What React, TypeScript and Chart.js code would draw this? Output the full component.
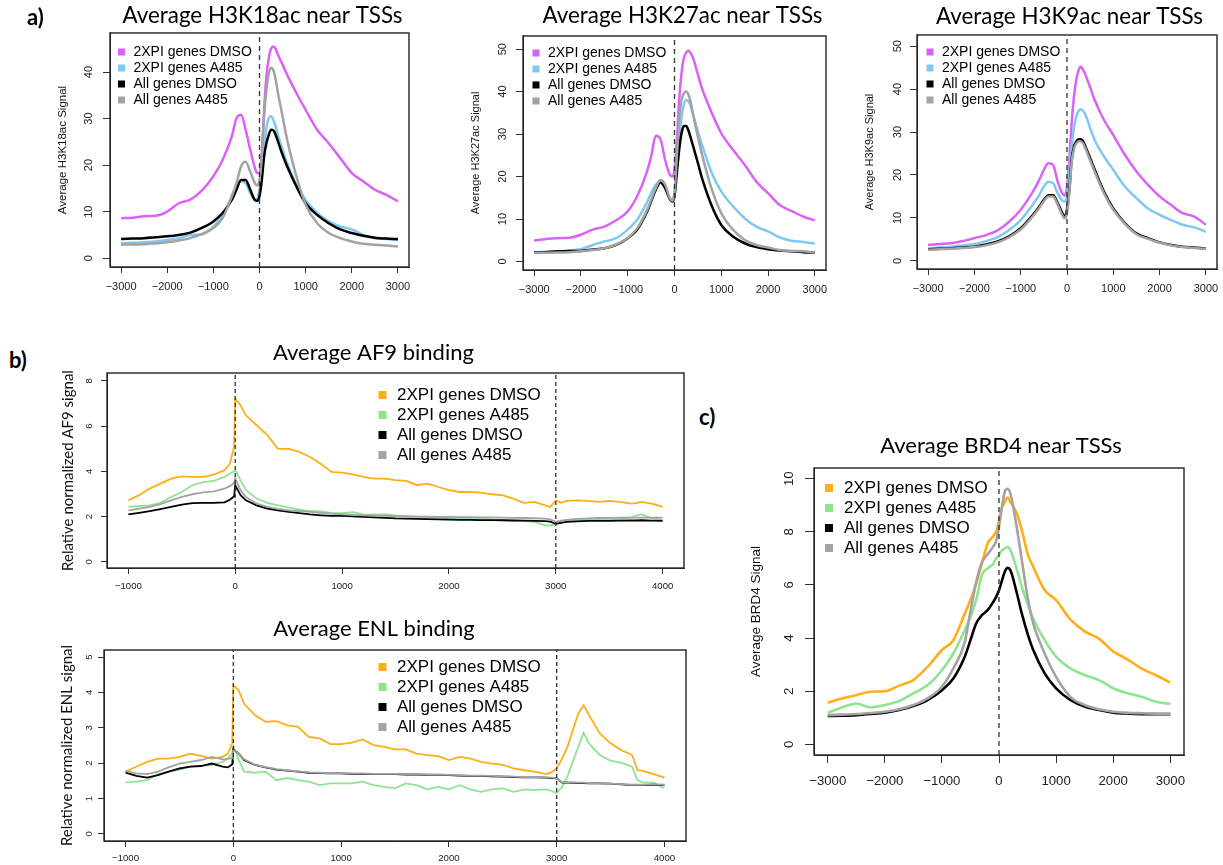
import React, { useEffect, useRef } from 'react';
import { Chart, registerables } from 'chart.js';

Chart.register(...registerables);

const SANS = '"Liberation Sans", Arial, Helvetica, sans-serif';
const CAL = 'Lato, "Noto Sans", sans-serif';

const MAGENTA = '#DB62F6';
const SKY = '#80C8F4';
const BLACK = '#000000';
const GRAY = '#A3A3A3';
const ORANGE = '#FFAE17';
const GREEN = '#8FE58F';

const LEGEND_LABELS = ['2XPI genes DMSO', '2XPI genes A485', 'All genes DMSO', 'All genes A485'];

// ---------- tick labels ----------
const TSS_TICKS = [-3000, -2000, -1000, 0, 1000, 2000, 3000];
const GENE_TICKS = [-1000, 0, 1000, 2000, 3000, 4000];
const H3K18_Y_TICKS = [0, 10, 20, 30, 40];
const H3K27_Y_TICKS = [0, 10, 20, 30, 40, 50];
const H3K9_Y_TICKS = [0, 10, 20, 30, 40, 50];
const AF9_Y_TICKS = [0, 2, 4, 6, 8];
const ENL_Y_TICKS = [0, 1, 2, 3, 4, 5];
const BRD4_Y_TICKS = [0, 2, 4, 6, 8, 10];

// ---------- panel a : histone acetylation near TSSs ----------
const TSS_X = [-3000, -2750, -2500, -2250, -2000, -1750, -1500, -1250, -1000, -800, -600, -500, -400, -300, -200, -100, -50, 0, 50, 100, 150, 200, 250, 300, 350, 400, 500, 600, 800, 1000, 1250, 1500, 1750, 2000, 2250, 2500, 2750, 3000];

const H3K18_2XPI_DMSO = [8.6, 8.7, 9.0, 9.1, 10.0, 11.8, 12.6, 14.5, 17.6, 21.1, 26.2, 30.0, 30.8, 27.6, 23.3, 19.4, 18.3, 18.3, 22.6, 31.9, 39.0, 43.0, 45.0, 45.5, 45.0, 43.7, 41.6, 39.4, 35.5, 31.9, 27.6, 24.7, 21.5, 18.3, 16.5, 14.7, 13.6, 12.2];
const H3K18_2XPI_A485 = [3.2, 3.3, 3.4, 3.6, 3.9, 4.3, 5.0, 5.1, 6.8, 9.3, 13.3, 15.4, 16.6, 16.1, 14.0, 12.5, 12.7, 14.7, 18.3, 24.0, 28.0, 30.1, 30.5, 29.7, 28.3, 26.5, 23.3, 20.4, 15.8, 12.5, 9.7, 7.9, 6.8, 6.2, 5.0, 4.3, 4.1, 3.9];
const H3K18_ALL_DMSO = [4.1, 4.2, 4.3, 4.5, 4.7, 5.0, 5.5, 6.5, 7.9, 9.7, 12.5, 14.7, 16.8, 16.8, 14.7, 12.5, 12.3, 13.3, 16.8, 21.9, 24.7, 26.5, 27.6, 27.5, 26.5, 25.1, 22.2, 19.7, 15.4, 11.8, 9.3, 7.5, 6.2, 5.4, 4.8, 4.4, 4.2, 4.1];
const H3K18_ALL_A485 = [2.9, 2.95, 3.0, 3.2, 3.4, 3.8, 4.3, 5.2, 6.5, 8.6, 13.3, 16.1, 19.7, 20.7, 18.6, 16.1, 15.6, 16.8, 21.9, 30.5, 36.2, 39.6, 40.9, 40.4, 38.4, 35.5, 30.5, 25.4, 17.6, 11.5, 7.5, 5.4, 4.3, 3.6, 3.1, 2.9, 2.7, 2.5];

const H3K27_2XPI_DMSO = [4.9, 5.3, 5.5, 5.6, 6.3, 7.5, 8.2, 9.7, 11.8, 15.3, 20.8, 24.7, 29.6, 28.8, 23.9, 20.4, 20.0, 21.6, 28.6, 38.0, 44.3, 47.9, 49.2, 49.7, 49.0, 47.9, 44.0, 40.4, 34.9, 30.2, 26.3, 22.8, 18.8, 16.1, 13.3, 11.9, 10.6, 9.7];
const H3K27_2XPI_A485 = [2.2, 2.3, 2.4, 2.6, 2.9, 3.9, 4.7, 5.5, 7.5, 9.8, 13.7, 16.1, 18.1, 18.8, 17.3, 14.9, 14.5, 16.1, 22.4, 28.6, 34.1, 36.9, 38.0, 37.7, 36.5, 34.5, 30.6, 27.1, 20.8, 16.5, 13.0, 10.2, 8.2, 7.1, 5.7, 4.9, 4.6, 4.2];
const H3K27_ALL_DMSO = [2.1, 2.2, 2.4, 2.45, 2.5, 2.8, 3.1, 3.9, 5.5, 7.5, 11.4, 14.1, 16.9, 18.6, 17.3, 14.7, 14.1, 15.3, 20.8, 26.3, 30.2, 31.9, 31.9, 30.8, 29.0, 27.1, 23.2, 19.2, 13.0, 8.6, 5.9, 4.3, 3.4, 2.9, 2.6, 2.4, 2.2, 2.1];
const H3K27_ALL_A485 = [2.0, 2.05, 2.1, 2.2, 2.4, 2.7, 3.1, 4.0, 5.5, 7.8, 11.8, 14.5, 17.3, 19.2, 18.1, 14.9, 14.3, 16.1, 24.7, 33.4, 38.0, 39.6, 40.0, 39.2, 37.3, 34.5, 29.4, 24.7, 16.9, 11.4, 7.5, 5.1, 3.9, 3.3, 2.7, 2.5, 2.4, 2.1];

const H3K9_2XPI_DMSO = [3.7, 3.9, 4.1, 4.6, 5.3, 6.0, 7.1, 9.1, 11.9, 15.0, 18.8, 21.2, 22.7, 22.3, 18.4, 15.7, 15.2, 17.3, 23.5, 32.0, 38.2, 42.1, 44.4, 45.2, 44.4, 43.3, 40.4, 37.4, 32.8, 29.3, 24.7, 20.8, 17.7, 15.0, 13.0, 11.1, 10.3, 8.4];
const H3K9_2XPI_A485 = [2.9, 3.1, 3.3, 3.6, 3.9, 4.6, 5.5, 7.2, 9.5, 12.2, 15.3, 17.3, 18.4, 18.1, 15.7, 14.0, 13.8, 15.3, 20.4, 26.6, 30.9, 33.6, 34.9, 35.3, 34.9, 34.0, 30.9, 28.1, 24.3, 21.2, 17.3, 14.6, 12.2, 10.7, 9.5, 8.4, 7.8, 6.8];
const H3K9_ALL_DMSO = [2.7, 2.8, 2.9, 3.1, 3.3, 3.8, 4.5, 5.7, 7.6, 9.9, 12.6, 14.2, 15.3, 15.3, 13.4, 11.1, 10.3, 11.9, 16.5, 23.5, 26.6, 27.8, 28.3, 28.3, 27.8, 26.6, 23.9, 21.2, 16.1, 12.2, 8.8, 6.4, 5.3, 4.3, 3.7, 3.3, 3.1, 2.9];
const H3K9_ALL_A485 = [2.6, 2.7, 2.8, 3.0, 3.2, 3.6, 4.3, 5.5, 7.3, 9.6, 12.3, 13.9, 15.0, 15.0, 13.0, 10.6, 9.9, 11.1, 15.8, 22.8, 26.0, 27.3, 27.8, 27.8, 27.3, 26.1, 23.4, 20.7, 15.7, 11.9, 8.6, 6.2, 5.1, 4.2, 3.6, 3.2, 3.0, 2.8];

// ---------- panel b : metagene binding (TSS .. TES) ----------
const GENE_X = [-1000, -900, -800, -700, -600, -500, -400, -300, -200, -100, -50, -10, 0, 50, 100, 200, 300, 400, 500, 600, 700, 800, 900, 1000, 1100, 1200, 1300, 1400, 1500, 1600, 1700, 1800, 1900, 2000, 2100, 2200, 2300, 2400, 2500, 2600, 2700, 2800, 2900, 2950, 3000, 3050, 3100, 3200, 3250, 3300, 3400, 3500, 3600, 3700, 3750, 3800, 3900, 4000];

const AF9_2XPI_DMSO = [2.72, 2.95, 3.24, 3.46, 3.68, 3.78, 3.76, 3.76, 3.86, 4.05, 4.34, 5.1, 7.22, 6.92, 6.48, 6.04, 5.6, 5.0, 5.0, 4.86, 4.64, 4.34, 3.98, 3.95, 3.87, 3.76, 3.68, 3.68, 3.61, 3.58, 3.39, 3.46, 3.31, 3.17, 3.09, 3.09, 3.06, 2.99, 2.95, 2.8, 2.61, 2.65, 2.5, 2.43, 2.72, 2.61, 2.7, 2.72, 2.71, 2.7, 2.65, 2.7, 2.65, 2.58, 2.6, 2.65, 2.58, 2.43];
const AF9_2XPI_A485 = [2.43, 2.47, 2.5, 2.61, 2.87, 3.09, 3.39, 3.53, 3.58, 3.76, 3.9, 4.0, 4.08, 3.6, 3.17, 2.8, 2.61, 2.5, 2.4, 2.31, 2.24, 2.24, 2.16, 2.16, 2.2, 2.1, 2.09, 2.1, 2.05, 2.02, 2.0, 1.98, 1.96, 1.93, 1.92, 1.9, 1.89, 1.88, 1.85, 1.83, 1.8, 1.77, 1.62, 1.6, 1.69, 1.78, 1.81, 1.85, 1.86, 1.87, 1.87, 1.88, 1.9, 1.96, 2.05, 2.1, 1.93, 1.86];
const AF9_ALL_DMSO = [2.1, 2.17, 2.24, 2.33, 2.43, 2.53, 2.6, 2.61, 2.61, 2.63, 2.75, 2.9, 3.39, 2.95, 2.72, 2.5, 2.36, 2.28, 2.21, 2.16, 2.1, 2.06, 2.03, 2.03, 2.01, 1.99, 1.97, 1.95, 1.92, 1.91, 1.9, 1.89, 1.88, 1.87, 1.86, 1.86, 1.85, 1.85, 1.84, 1.83, 1.82, 1.81, 1.8, 1.78, 1.68, 1.72, 1.77, 1.79, 1.8, 1.81, 1.81, 1.81, 1.82, 1.83, 1.83, 1.84, 1.82, 1.81];
const AF9_ALL_A485 = [2.28, 2.35, 2.43, 2.55, 2.72, 2.87, 2.99, 3.07, 3.12, 3.24, 3.35, 3.5, 3.7, 3.17, 2.87, 2.58, 2.43, 2.34, 2.28, 2.24, 2.21, 2.17, 2.13, 2.1, 2.08, 2.06, 2.05, 2.04, 2.02, 2.01, 2.0, 2.0, 1.99, 1.99, 1.98, 1.98, 1.97, 1.97, 1.96, 1.95, 1.94, 1.93, 1.91, 1.88, 1.77, 1.82, 1.86, 1.9, 1.91, 1.92, 1.94, 1.95, 1.96, 1.96, 1.96, 1.96, 1.96, 1.96];

const ENL_2XPI_DMSO = [1.76, 1.9, 2.04, 2.13, 2.13, 2.18, 2.27, 2.21, 2.13, 2.18, 2.27, 2.56, 4.2, 4.06, 3.68, 3.36, 3.17, 3.19, 3.07, 3.03, 2.74, 2.7, 2.54, 2.54, 2.58, 2.67, 2.51, 2.46, 2.39, 2.39, 2.27, 2.23, 2.2, 2.09, 2.18, 2.13, 2.04, 1.99, 1.95, 1.85, 1.8, 1.76, 1.69, 1.74, 1.85, 2.13, 2.46, 3.4, 3.64, 3.36, 2.84, 2.56, 2.37, 2.23, 1.8, 1.78, 1.69, 1.59];
const ENL_2XPI_A485 = [1.46, 1.48, 1.52, 1.69, 1.76, 1.82, 1.9, 1.93, 1.95, 2.04, 2.13, 2.3, 2.48, 2.09, 1.76, 1.73, 1.76, 1.52, 1.58, 1.52, 1.48, 1.38, 1.43, 1.43, 1.43, 1.48, 1.38, 1.33, 1.29, 1.43, 1.38, 1.26, 1.33, 1.26, 1.38, 1.26, 1.19, 1.26, 1.29, 1.19, 1.26, 1.24, 1.26, 1.22, 1.15, 1.33, 1.62, 2.46, 2.86, 2.56, 2.23, 2.07, 2.01, 1.9, 1.52, 1.45, 1.45, 1.29];
const ENL_ALL_DMSO = [1.73, 1.64, 1.59, 1.66, 1.76, 1.85, 1.9, 1.92, 1.99, 1.9, 1.88, 1.97, 2.39, 2.27, 2.09, 1.95, 1.88, 1.82, 1.79, 1.76, 1.73, 1.72, 1.71, 1.71, 1.7, 1.7, 1.69, 1.69, 1.69, 1.68, 1.68, 1.67, 1.67, 1.66, 1.65, 1.64, 1.64, 1.63, 1.62, 1.61, 1.6, 1.6, 1.59, 1.58, 1.57, 1.45, 1.45, 1.44, 1.44, 1.43, 1.43, 1.42, 1.4, 1.38, 1.38, 1.38, 1.39, 1.38];
const ENL_ALL_A485 = [1.78, 1.71, 1.69, 1.76, 1.88, 1.99, 2.04, 2.09, 2.18, 2.11, 2.12, 2.15, 2.37, 2.27, 2.11, 1.96, 1.89, 1.83, 1.8, 1.77, 1.74, 1.73, 1.72, 1.72, 1.71, 1.71, 1.7, 1.7, 1.7, 1.69, 1.69, 1.68, 1.68, 1.67, 1.66, 1.65, 1.65, 1.64, 1.63, 1.62, 1.61, 1.61, 1.6, 1.59, 1.58, 1.46, 1.46, 1.45, 1.45, 1.44, 1.43, 1.42, 1.41, 1.39, 1.39, 1.39, 1.4, 1.39];

// ---------- panel c : BRD4 near TSSs ----------
const BRD4_X = [-3000, -2750, -2500, -2250, -2000, -1750, -1500, -1250, -1000, -800, -600, -500, -400, -300, -200, -100, -50, 0, 50, 100, 150, 200, 300, 400, 500, 600, 800, 1000, 1250, 1500, 1750, 2000, 2250, 2500, 2750, 3000];
const BRD4_2XPI_DMSO = [1.57, 1.73, 1.85, 1.98, 2.0, 2.21, 2.42, 2.92, 3.55, 3.92, 4.92, 5.43, 6.05, 6.8, 7.56, 7.83, 8.0, 8.43, 8.9, 9.12, 9.29, 9.12, 8.75, 8.06, 7.18, 6.68, 5.8, 5.43, 4.7, 4.25, 3.98, 3.5, 3.2, 2.85, 2.6, 2.32];
const BRD4_2XPI_A485 = [1.19, 1.39, 1.54, 1.39, 1.48, 1.63, 1.92, 2.23, 2.79, 3.42, 4.3, 4.8, 5.43, 6.37, 6.62, 6.8, 7.0, 7.12, 7.3, 7.37, 7.43, 7.31, 6.68, 5.93, 5.3, 4.74, 3.92, 3.3, 2.86, 2.61, 2.42, 2.11, 1.92, 1.79, 1.6, 1.52];
const BRD4_ALL_DMSO = [1.07, 1.08, 1.1, 1.14, 1.19, 1.29, 1.44, 1.67, 2.04, 2.48, 3.3, 3.92, 4.55, 4.86, 5.05, 5.36, 5.55, 5.8, 6.15, 6.49, 6.64, 6.55, 5.8, 4.92, 4.17, 3.55, 2.67, 2.11, 1.67, 1.42, 1.29, 1.19, 1.16, 1.14, 1.14, 1.14];
const BRD4_ALL_A485 = [1.1, 1.12, 1.14, 1.18, 1.23, 1.32, 1.48, 1.73, 2.17, 2.86, 3.85, 5.0, 6.1, 6.85, 7.15, 7.45, 7.65, 8.2, 8.9, 9.5, 9.62, 9.44, 8.31, 6.93, 5.55, 4.55, 3.42, 2.54, 1.79, 1.48, 1.32, 1.23, 1.19, 1.17, 1.15, 1.14];

const TSS_MARK = [0];
const GENE_MARKS = [0, 3000];

// ---------- plugins ----------
const panelShift = {
  id: 'panelShift',
  afterLayout(chart: any, _args: any, opts: any) {
    const a = chart.chartArea;
    const lg = chart.legend;
    if (lg && a) {
      const w = lg.right - lg.left;
      lg.left = a.left + (opts.legendDx || 0);
      lg.right = lg.left + w;
      lg.top = a.top + (opts.legendDy || 0);
      lg.bottom = a.bottom;
    }
    const tb = chart.titleBlock;
    if (tb) {
      tb.left += opts.titleDx || 0;
      tb.right += opts.titleDx || 0;
    }
  },
};

const framePlugin = {
  id: 'frame',
  afterDraw(chart: any, _args: any, opts: any) {
    const { ctx, chartArea: a } = chart;
    ctx.save();
    ctx.strokeStyle = opts.color || '#222';
    ctx.lineWidth = opts.width || 1.4;
    ctx.strokeRect(a.left, a.top, a.right - a.left, a.bottom - a.top);
    ctx.restore();
  },
};

interface PanelSpec {
  key: string;
  left: number; top: number; width: number; height: number;
  padLeft: number; padRight: number; yAxisWidth: number; xAxisHeight: number;
  title: string; titleSize: number; titlePadTop: number; titlePadBottom: number; titleDx: number;
  xs: number[]; series: number[][]; colors: string[]; lineWidth: number; smooth: boolean;
  xMin: number; xMax: number; xTicks: number[]; yMin: number; yMax: number; yTicks: number[];
  vLines: number[]; dash: number[]; dashWidth: number;
  yTitle: string; yTitleFamily: string; yTitleSize: number;
  tickSize: number; xTickLen: number; yTickLen: number; xTickPad: number; yTickPad: number;
  legendSize: number; legendPad: number; legendBoxW: number; legendBoxH: number; legendDx: number; legendDy: number;
}

const fmtTick = (v: number) => (v < 0 ? '\u2212' + Math.abs(v) : String(v));

function buildConfig(p: PanelSpec): any {
  const datasets: any[] = p.series.map((ys, i) => ({
    label: LEGEND_LABELS[i],
    data: p.xs.map((x, j) => ({ x, y: ys[j] })),
    borderColor: p.colors[i],
    backgroundColor: p.colors[i],
    borderWidth: p.lineWidth,
    pointRadius: 0,
    pointHoverRadius: 0,
    fill: false,
    tension: 0,
    cubicInterpolationMode: p.smooth ? 'monotone' : 'default',
    order: 10 - i,
  }));
  p.vLines.forEach((v) => {
    datasets.push({
      label: '_vline',
      data: [{ x: v, y: p.yMin }, { x: v, y: p.yMax }],
      borderColor: '#333',
      backgroundColor: '#333',
      borderWidth: p.dashWidth,
      borderDash: p.dash,
      pointRadius: 0,
      pointHoverRadius: 0,
      fill: false,
      order: 0,
    });
  });
  const tickFont = { family: SANS, size: p.tickSize };
  return {
    type: 'line',
    data: { datasets },
    options: {
      animation: false,
      responsive: false,
      events: [],
      layout: { padding: { left: p.padLeft, right: p.padRight, top: 0, bottom: 0 } },
      scales: {
        x: {
          type: 'linear',
          min: p.xMin,
          max: p.xMax,
          afterFit: (s: any) => { s.height = p.xAxisHeight; },
          afterBuildTicks: (s: any) => { s.ticks = p.xTicks.map((value) => ({ value })); },
          ticks: {
            autoSkip: false, maxRotation: 0, minRotation: 0,
            font: tickFont, color: '#222', padding: p.xTickPad, callback: (v: any) => fmtTick(Number(v)),
          },
          grid: { drawOnChartArea: false, drawTicks: true, tickLength: p.xTickLen, color: '#333', lineWidth: 1 },
          border: { display: true, color: '#333', width: 1 },
        },
        y: {
          type: 'linear',
          min: p.yMin,
          max: p.yMax,
          afterFit: (s: any) => { s.width = p.yAxisWidth; },
          afterBuildTicks: (s: any) => { s.ticks = p.yTicks.map((value) => ({ value })); },
          ticks: {
            autoSkip: false, minRotation: 90, maxRotation: 90,
            crossAlign: 'center', font: tickFont, color: '#222', padding: p.yTickPad,
            callback: (v: any) => String(v),
          },
          grid: { drawOnChartArea: false, drawTicks: true, tickLength: p.yTickLen, color: '#333', lineWidth: 1 },
          border: { display: true, color: '#333', width: 1 },
          title: {
            display: true, text: p.yTitle, color: '#111', padding: 0,
            font: { family: p.yTitleFamily, size: p.yTitleSize, weight: 'normal' },
          },
        },
      },
      plugins: {
        tooltip: { enabled: false },
        title: {
          display: true, text: p.title, color: '#000', fullSize: false,
          font: { family: CAL, size: p.titleSize, weight: 'normal', lineHeight: 1.2 },
          padding: { top: p.titlePadTop, bottom: p.titlePadBottom },
        },
        legend: {
          position: 'chartArea',
          align: 'start',
          labels: {
            usePointStyle: true,
            pointStyle: 'rect',
            boxWidth: p.legendBoxW,
            boxHeight: p.legendBoxH,
            padding: p.legendPad,
            color: '#000',
            font: { family: SANS, size: p.legendSize },
            filter: (item: any) => item.text !== '_vline',
            sort: (a: any, b: any) => a.datasetIndex - b.datasetIndex,
            generateLabels: (chart: any) =>
              (Chart.defaults.plugins.legend.labels as any).generateLabels(chart).map((l: any) => ({
                ...l, lineWidth: 0, fillStyle: l.strokeStyle,
              })),
          },
        },
        panelShift: { legendDx: p.legendDx, legendDy: p.legendDy, titleDx: p.titleDx },
        frame: { color: '#222', width: 1.4 },
      },
    },
    plugins: [panelShift, framePlugin],
  };
}

const A_COLORS = [MAGENTA, SKY, BLACK, GRAY];
const BC_COLORS = [ORANGE, GREEN, BLACK, GRAY];

const aCommon = {
  top: 0, padRight: 12, xAxisHeight: 30, titleSize: 22.4,
  xs: TSS_X, colors: A_COLORS, lineWidth: 2.5, smooth: true,
  xMin: -3240, xMax: 3240, xTicks: TSS_TICKS,
  vLines: TSS_MARK, dash: [5, 4], dashWidth: 1.3,
  yTitleFamily: SANS, tickSize: 11, xTickLen: 6, yTickLen: 7, xTickPad: 7.4,
  legendSize: 14, legendPad: 2, legendBoxW: 10, legendBoxH: 7,
};

const PANELS: PanelSpec[] = [
  {
    ...aCommon, key: 'h3k18', left: 40, width: 381, height: 297, padLeft: 16.1, yAxisWidth: 53.9,
    title: 'Average H3K18ac near TSSs', titlePadTop: 2.6, titlePadBottom: 3.5, titleDx: 3,
    series: [H3K18_2XPI_DMSO, H3K18_2XPI_A485, H3K18_ALL_DMSO, H3K18_ALL_A485],
    yMin: -1.9, yMax: 48.4, yTicks: H3K18_Y_TICKS, yTitle: 'Average H3K18ac Signal', yTitleSize: 11.5, yTickPad: 7.9,
    legendDx: 4.5, legendDy: 10,
  },
  {
    ...aCommon, key: 'h3k27', left: 440, width: 398, height: 300, padLeft: 29.4, yAxisWidth: 53.6,
    title: 'Average H3K27ac near TSSs', titlePadTop: 2.6, titlePadBottom: 6.5, titleDx: 8,
    series: [H3K27_2XPI_DMSO, H3K27_2XPI_A485, H3K27_ALL_DMSO, H3K27_ALL_A485],
    yMin: -2.0, yMax: 53.1, yTicks: H3K27_Y_TICKS, yTitle: 'Average H3K27ac Signal', yTitleSize: 11, yTickPad: 6.9,
    legendDx: 6, legendDy: 8,
  },
  {
    ...aCommon, key: 'h3k9', left: 860, width: 369, height: 299, padLeft: 3.4, yAxisWidth: 53.6,
    title: 'Average H3K9ac near TSSs', titlePadTop: 3.6, titlePadBottom: 4.5, titleDx: 2.5,
    series: [H3K9_2XPI_DMSO, H3K9_2XPI_A485, H3K9_ALL_DMSO, H3K9_ALL_A485],
    yMin: -1.9, yMax: 52.6, yTicks: H3K9_Y_TICKS, yTitle: 'Average H3K9ac Signal', yTitleSize: 11, yTickPad: 5.6,
    legendDx: 6, legendDy: 8,
  },
  {
    key: 'af9', left: 40, top: 320, width: 656, height: 278, padLeft: 19.3, padRight: 12, yAxisWidth: 47.7, xAxisHeight: 30,
    title: 'Average AF9 binding', titleSize: 22, titlePadTop: 19.3, titlePadBottom: 7.3, titleDx: -22,
    xs: GENE_X, series: [AF9_2XPI_DMSO, AF9_2XPI_A485, AF9_ALL_DMSO, AF9_ALL_A485], colors: BC_COLORS,
    lineWidth: 1.8, smooth: false,
    xMin: -1200, xMax: 4200, xTicks: GENE_TICKS, yMin: -0.27, yMax: 8.35, yTicks: AF9_Y_TICKS,
    vLines: GENE_MARKS, dash: [4, 3], dashWidth: 1.3,
    yTitle: 'Relative normalized AF9 signal', yTitleFamily: CAL, yTitleSize: 15,
    tickSize: 9.6, xTickLen: 6, yTickLen: 6, xTickPad: 6.2, yTickPad: 9,
    legendSize: 17, legendPad: 3, legendBoxW: 12, legendBoxH: 8, legendDx: 266.5, legendDy: 10.5,
  },
  {
    key: 'enl', left: 40, top: 600, width: 658, height: 265, padLeft: 17.7, padRight: 12, yAxisWidth: 46.3, xAxisHeight: 24,
    title: 'Average ENL binding', titleSize: 22, titlePadTop: 15.8, titlePadBottom: 7.8, titleDx: -21,
    xs: GENE_X, series: [ENL_2XPI_DMSO, ENL_2XPI_A485, ENL_ALL_DMSO, ENL_ALL_A485], colors: BC_COLORS,
    lineWidth: 1.8, smooth: false,
    xMin: -1200, xMax: 4200, xTicks: GENE_TICKS, yMin: -0.2, yMax: 5.2, yTicks: ENL_Y_TICKS,
    vLines: GENE_MARKS, dash: [4, 3], dashWidth: 1.3,
    yTitle: 'Relative normalized ENL signal', yTitleFamily: CAL, yTitleSize: 15,
    tickSize: 9.6, xTickLen: 6, yTickLen: 6, xTickPad: 5.2, yTickPad: 6,
    legendSize: 17, legendPad: 3, legendBoxW: 12, legendBoxH: 8, legendDx: 269.5, legendDy: 5.5,
  },
  {
    key: 'brd4', left: 745, top: 420, width: 451, height: 375, padLeft: 3.6, padRight: 12, yAxisWidth: 65.4, xAxisHeight: 40,
    title: 'Average BRD4 near TSSs', titleSize: 22, titlePadTop: 12.8, titlePadBottom: 8.8, titleDx: 2,
    xs: BRD4_X, series: [BRD4_2XPI_DMSO, BRD4_2XPI_A485, BRD4_ALL_DMSO, BRD4_ALL_A485], colors: BC_COLORS,
    lineWidth: 2.6, smooth: true,
    xMin: -3240, xMax: 3240, xTicks: TSS_TICKS, yMin: -0.4, yMax: 10.4, yTicks: BRD4_Y_TICKS,
    vLines: TSS_MARK, dash: [5, 4], dashWidth: 1.3,
    yTitle: 'Average BRD4 Signal', yTitleFamily: SANS, yTitleSize: 13.5,
    tickSize: 13.2, xTickLen: 8, yTickLen: 9, xTickPad: 10.1, yTickPad: 8.4,
    legendSize: 17, legendPad: 3, legendBoxW: 13, legendBoxH: 8, legendDx: 5.5, legendDy: 8.5,
  },
];

function Panel({ spec }: { spec: PanelSpec }) {
  const ref = useRef<HTMLCanvasElement | null>(null);
  useEffect(() => {
    if (!ref.current) return;
    const chart = new Chart(ref.current, buildConfig(spec));
    return () => chart.destroy();
  }, [spec]);
  return (
    <canvas
      ref={ref}
      width={spec.width}
      height={spec.height}
      style={{ position: 'absolute', left: spec.left, top: spec.top, width: spec.width, height: spec.height }}
    />
  );
}

const letterStyle = (left: number, top: number): React.CSSProperties => ({
  position: 'absolute', left, top, fontFamily: CAL, fontWeight: 700, fontSize: 22, lineHeight: '22px', color: '#000',
});

export default function App() {
  return (
    <div style={{ position: 'absolute', left: 0, top: 0, width: 1223, height: 865, overflow: 'hidden', background: '#fff' }}>
      {PANELS.map((p) => (
        <Panel key={p.key} spec={p} />
      ))}
      <div style={letterStyle(27, 6)}>a)</div>
      <div style={letterStyle(9, 349)}>b)</div>
      <div style={letterStyle(699, 406)}>c)</div>
    </div>
  );
}
